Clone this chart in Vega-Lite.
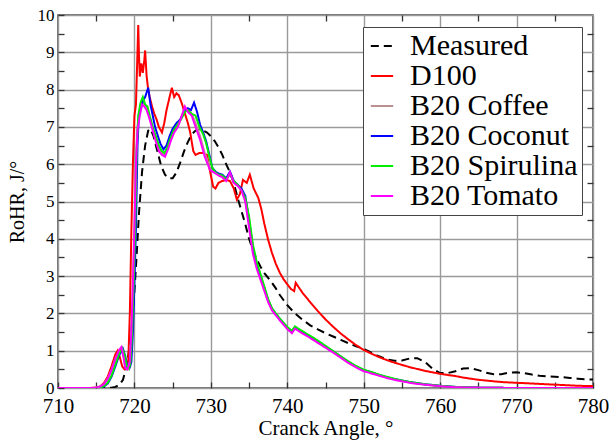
{
"$schema": "https://vega.github.io/schema/vega-lite/v6.json",
"width": 535, "height": 373,
"autosize": {"type": "none"},
"padding": {"left": 58, "top": 15, "right": 16, "bottom": 53},
"background": "white",
"config": {
  "view": {"stroke": "#444444", "strokeWidth": 1.5},
  "font": "Liberation Serif",
  "axis": {"labelFont": "Liberation Serif", "titleFont": "Liberation Serif", "labelColor": "black", "titleColor": "black", "titleFontWeight": "normal", "domain": false, "gridColor": "#9a9a9a", "gridWidth": 1.4, "tickColor": "#333333", "tickWidth": 1.3, "labelOverlap": false, "labelFlush": false},
  "legend": {"labelFont": "Liberation Serif", "labelFontSize": 30, "labelColor": "black", "symbolType": "stroke", "symbolSize": 500, "symbolStrokeWidth": 2, "fillColor": "white", "strokeColor": "#444444", "padding": 4, "rowPadding": -8, "labelOffset": 13, "labelLimit": 400}
},
"data": {"values": [
{"Series":"Measured","Angle":710,"RoHR":0},{"Series":"Measured","Angle":714,"RoHR":0},{"Series":"Measured","Angle":716,"RoHR":0},{"Series":"Measured","Angle":717,"RoHR":0.01},{"Series":"Measured","Angle":717.5,"RoHR":0.03},{"Series":"Measured","Angle":718,"RoHR":0.08},{"Series":"Measured","Angle":718.5,"RoHR":0.22},{"Series":"Measured","Angle":719,"RoHR":0.6},{"Series":"Measured","Angle":719.5,"RoHR":1.3},{"Series":"Measured","Angle":720,"RoHR":2.6},{"Series":"Measured","Angle":720.3,"RoHR":3.6},{"Series":"Measured","Angle":720.6,"RoHR":4.7},{"Series":"Measured","Angle":721,"RoHR":5.8},{"Series":"Measured","Angle":721.4,"RoHR":6.5},{"Series":"Measured","Angle":721.8,"RoHR":6.9},{"Series":"Measured","Angle":722.1,"RoHR":6.95},{"Series":"Measured","Angle":722.5,"RoHR":6.75},{"Series":"Measured","Angle":723,"RoHR":6.35},{"Series":"Measured","Angle":723.5,"RoHR":5.95},{"Series":"Measured","Angle":724,"RoHR":5.72},{"Series":"Measured","Angle":724.5,"RoHR":5.62},{"Series":"Measured","Angle":725,"RoHR":5.62},{"Series":"Measured","Angle":725.5,"RoHR":5.78},{"Series":"Measured","Angle":726,"RoHR":6.05},{"Series":"Measured","Angle":726.5,"RoHR":6.35},{"Series":"Measured","Angle":727,"RoHR":6.6},{"Series":"Measured","Angle":727.5,"RoHR":6.8},{"Series":"Measured","Angle":728,"RoHR":6.9},{"Series":"Measured","Angle":728.5,"RoHR":6.93},{"Series":"Measured","Angle":729,"RoHR":6.9},{"Series":"Measured","Angle":729.5,"RoHR":6.85},{"Series":"Measured","Angle":730,"RoHR":6.75},{"Series":"Measured","Angle":730.5,"RoHR":6.62},{"Series":"Measured","Angle":731,"RoHR":6.45},{"Series":"Measured","Angle":731.5,"RoHR":6.25},{"Series":"Measured","Angle":732,"RoHR":6.0},{"Series":"Measured","Angle":732.5,"RoHR":5.78},{"Series":"Measured","Angle":733,"RoHR":5.5},{"Series":"Measured","Angle":733.5,"RoHR":5.1},{"Series":"Measured","Angle":734,"RoHR":4.75},{"Series":"Measured","Angle":734.5,"RoHR":4.4},{"Series":"Measured","Angle":735,"RoHR":4.0},{"Series":"Measured","Angle":735.5,"RoHR":3.7},{"Series":"Measured","Angle":736,"RoHR":3.45},{"Series":"Measured","Angle":736.5,"RoHR":3.25},{"Series":"Measured","Angle":737,"RoHR":3.08},{"Series":"Measured","Angle":737.5,"RoHR":2.95},{"Series":"Measured","Angle":738,"RoHR":2.82},{"Series":"Measured","Angle":738.5,"RoHR":2.67},{"Series":"Measured","Angle":739,"RoHR":2.5},{"Series":"Measured","Angle":739.5,"RoHR":2.36},{"Series":"Measured","Angle":740,"RoHR":2.22},{"Series":"Measured","Angle":741,"RoHR":2.0},{"Series":"Measured","Angle":742,"RoHR":1.83},{"Series":"Measured","Angle":743,"RoHR":1.68},{"Series":"Measured","Angle":744,"RoHR":1.57},{"Series":"Measured","Angle":745,"RoHR":1.47},{"Series":"Measured","Angle":746,"RoHR":1.38},{"Series":"Measured","Angle":747,"RoHR":1.29},{"Series":"Measured","Angle":748,"RoHR":1.2},{"Series":"Measured","Angle":749,"RoHR":1.12},{"Series":"Measured","Angle":750,"RoHR":1.05},{"Series":"Measured","Angle":751,"RoHR":0.95},{"Series":"Measured","Angle":752,"RoHR":0.85},{"Series":"Measured","Angle":753,"RoHR":0.77},{"Series":"Measured","Angle":754,"RoHR":0.73},{"Series":"Measured","Angle":755,"RoHR":0.74},{"Series":"Measured","Angle":756,"RoHR":0.79},{"Series":"Measured","Angle":757,"RoHR":0.8},{"Series":"Measured","Angle":758,"RoHR":0.7},{"Series":"Measured","Angle":759,"RoHR":0.52},{"Series":"Measured","Angle":760,"RoHR":0.4},{"Series":"Measured","Angle":761,"RoHR":0.4},{"Series":"Measured","Angle":762,"RoHR":0.45},{"Series":"Measured","Angle":763,"RoHR":0.52},{"Series":"Measured","Angle":764,"RoHR":0.53},{"Series":"Measured","Angle":765,"RoHR":0.48},{"Series":"Measured","Angle":766,"RoHR":0.41},{"Series":"Measured","Angle":767,"RoHR":0.37},{"Series":"Measured","Angle":768,"RoHR":0.37},{"Series":"Measured","Angle":769,"RoHR":0.41},{"Series":"Measured","Angle":770,"RoHR":0.42},{"Series":"Measured","Angle":771,"RoHR":0.4},{"Series":"Measured","Angle":772,"RoHR":0.36},{"Series":"Measured","Angle":773,"RoHR":0.33},{"Series":"Measured","Angle":774,"RoHR":0.31},{"Series":"Measured","Angle":775,"RoHR":0.3},{"Series":"Measured","Angle":776,"RoHR":0.29},{"Series":"Measured","Angle":777,"RoHR":0.27},{"Series":"Measured","Angle":778,"RoHR":0.25},{"Series":"Measured","Angle":779,"RoHR":0.23},{"Series":"Measured","Angle":780,"RoHR":0.23},
{"Series":"D100","Angle":710,"RoHR":0},{"Series":"D100","Angle":714,"RoHR":0},{"Series":"D100","Angle":715,"RoHR":0.01},{"Series":"D100","Angle":715.5,"RoHR":0.04},{"Series":"D100","Angle":716,"RoHR":0.13},{"Series":"D100","Angle":716.5,"RoHR":0.3},{"Series":"D100","Angle":717,"RoHR":0.58},{"Series":"D100","Angle":717.5,"RoHR":0.9},{"Series":"D100","Angle":717.8,"RoHR":1.0},{"Series":"D100","Angle":718.1,"RoHR":0.82},{"Series":"D100","Angle":718.4,"RoHR":0.58},{"Series":"D100","Angle":718.7,"RoHR":0.5},{"Series":"D100","Angle":719,"RoHR":0.55},{"Series":"D100","Angle":719.2,"RoHR":0.75},{"Series":"D100","Angle":719.4,"RoHR":2.0},{"Series":"D100","Angle":719.6,"RoHR":4.2},{"Series":"D100","Angle":719.8,"RoHR":6.0},{"Series":"D100","Angle":720,"RoHR":7.3},{"Series":"D100","Angle":720.2,"RoHR":7.6},{"Series":"D100","Angle":720.4,"RoHR":9.0},{"Series":"D100","Angle":720.5,"RoHR":9.73},{"Series":"D100","Angle":720.6,"RoHR":8.9},{"Series":"D100","Angle":720.7,"RoHR":8.35},{"Series":"D100","Angle":720.9,"RoHR":8.7},{"Series":"D100","Angle":721.1,"RoHR":8.45},{"Series":"D100","Angle":721.3,"RoHR":8.8},{"Series":"D100","Angle":721.4,"RoHR":9.05},{"Series":"D100","Angle":721.6,"RoHR":8.35},{"Series":"D100","Angle":721.8,"RoHR":8.0},{"Series":"D100","Angle":722,"RoHR":7.8},{"Series":"D100","Angle":722.3,"RoHR":7.55},{"Series":"D100","Angle":722.6,"RoHR":7.35},{"Series":"D100","Angle":722.9,"RoHR":7.2},{"Series":"D100","Angle":723.2,"RoHR":7.0},{"Series":"D100","Angle":723.6,"RoHR":6.85},{"Series":"D100","Angle":723.9,"RoHR":7.1},{"Series":"D100","Angle":724.2,"RoHR":7.45},{"Series":"D100","Angle":724.6,"RoHR":7.8},{"Series":"D100","Angle":724.9,"RoHR":8.05},{"Series":"D100","Angle":725.2,"RoHR":7.8},{"Series":"D100","Angle":725.5,"RoHR":7.9},{"Series":"D100","Angle":725.8,"RoHR":7.85},{"Series":"D100","Angle":726.2,"RoHR":7.63},{"Series":"D100","Angle":726.6,"RoHR":7.36},{"Series":"D100","Angle":727,"RoHR":7.1},{"Series":"D100","Angle":727.3,"RoHR":6.85},{"Series":"D100","Angle":727.7,"RoHR":6.35},{"Series":"D100","Angle":728,"RoHR":6.25},{"Series":"D100","Angle":728.5,"RoHR":6.3},{"Series":"D100","Angle":729,"RoHR":6.3},{"Series":"D100","Angle":729.5,"RoHR":6.25},{"Series":"D100","Angle":729.9,"RoHR":5.8},{"Series":"D100","Angle":730.3,"RoHR":5.4},{"Series":"D100","Angle":730.6,"RoHR":5.35},{"Series":"D100","Angle":731,"RoHR":5.5},{"Series":"D100","Angle":731.5,"RoHR":5.55},{"Series":"D100","Angle":732,"RoHR":5.58},{"Series":"D100","Angle":732.5,"RoHR":5.55},{"Series":"D100","Angle":733,"RoHR":5.35},{"Series":"D100","Angle":733.4,"RoHR":5.05},{"Series":"D100","Angle":733.8,"RoHR":5.2},{"Series":"D100","Angle":734.2,"RoHR":5.58},{"Series":"D100","Angle":734.7,"RoHR":5.5},{"Series":"D100","Angle":735.1,"RoHR":5.72},{"Series":"D100","Angle":735.6,"RoHR":5.35},{"Series":"D100","Angle":736.2,"RoHR":5.1},{"Series":"D100","Angle":736.6,"RoHR":4.8},{"Series":"D100","Angle":737,"RoHR":4.4},{"Series":"D100","Angle":737.5,"RoHR":3.97},{"Series":"D100","Angle":738,"RoHR":3.62},{"Series":"D100","Angle":738.5,"RoHR":3.33},{"Series":"D100","Angle":739,"RoHR":3.1},{"Series":"D100","Angle":739.5,"RoHR":2.92},{"Series":"D100","Angle":740,"RoHR":2.78},{"Series":"D100","Angle":740.5,"RoHR":2.65},{"Series":"D100","Angle":740.9,"RoHR":2.6},{"Series":"D100","Angle":741.1,"RoHR":2.82},{"Series":"D100","Angle":741.5,"RoHR":2.7},{"Series":"D100","Angle":742,"RoHR":2.55},{"Series":"D100","Angle":743,"RoHR":2.3},{"Series":"D100","Angle":744,"RoHR":2.06},{"Series":"D100","Angle":745,"RoHR":1.84},{"Series":"D100","Angle":746,"RoHR":1.64},{"Series":"D100","Angle":747,"RoHR":1.46},{"Series":"D100","Angle":748,"RoHR":1.3},{"Series":"D100","Angle":749,"RoHR":1.15},{"Series":"D100","Angle":750,"RoHR":1.02},{"Series":"D100","Angle":751,"RoHR":0.92},{"Series":"D100","Angle":752,"RoHR":0.83},{"Series":"D100","Angle":753,"RoHR":0.75},{"Series":"D100","Angle":754,"RoHR":0.68},{"Series":"D100","Angle":755,"RoHR":0.62},{"Series":"D100","Angle":756,"RoHR":0.56},{"Series":"D100","Angle":757,"RoHR":0.51},{"Series":"D100","Angle":758,"RoHR":0.46},{"Series":"D100","Angle":759,"RoHR":0.42},{"Series":"D100","Angle":760,"RoHR":0.38},{"Series":"D100","Angle":761,"RoHR":0.35},{"Series":"D100","Angle":762,"RoHR":0.32},{"Series":"D100","Angle":763,"RoHR":0.28},{"Series":"D100","Angle":764,"RoHR":0.25},{"Series":"D100","Angle":765,"RoHR":0.22},{"Series":"D100","Angle":766,"RoHR":0.2},{"Series":"D100","Angle":767,"RoHR":0.18},{"Series":"D100","Angle":768,"RoHR":0.16},{"Series":"D100","Angle":769,"RoHR":0.15},{"Series":"D100","Angle":770,"RoHR":0.14},{"Series":"D100","Angle":772,"RoHR":0.12},{"Series":"D100","Angle":774,"RoHR":0.1},{"Series":"D100","Angle":776,"RoHR":0.08},{"Series":"D100","Angle":778,"RoHR":0.06},{"Series":"D100","Angle":780,"RoHR":0.05},
{"Series":"B20 Coffee","Angle":710,"RoHR":0},{"Series":"B20 Coffee","Angle":714.5,"RoHR":0},{"Series":"B20 Coffee","Angle":715,"RoHR":0.01},{"Series":"B20 Coffee","Angle":715.5,"RoHR":0.04},{"Series":"B20 Coffee","Angle":716,"RoHR":0.1},{"Series":"B20 Coffee","Angle":716.5,"RoHR":0.25},{"Series":"B20 Coffee","Angle":717,"RoHR":0.48},{"Series":"B20 Coffee","Angle":717.5,"RoHR":0.78},{"Series":"B20 Coffee","Angle":718,"RoHR":1.0},{"Series":"B20 Coffee","Angle":718.3,"RoHR":1.08},{"Series":"B20 Coffee","Angle":718.6,"RoHR":0.82},{"Series":"B20 Coffee","Angle":718.8,"RoHR":0.56},{"Series":"B20 Coffee","Angle":719.1,"RoHR":0.5},{"Series":"B20 Coffee","Angle":719.4,"RoHR":0.68},{"Series":"B20 Coffee","Angle":719.6,"RoHR":1.5},{"Series":"B20 Coffee","Angle":719.8,"RoHR":2.8},{"Series":"B20 Coffee","Angle":720,"RoHR":4.3},{"Series":"B20 Coffee","Angle":720.2,"RoHR":6.1},{"Series":"B20 Coffee","Angle":720.4,"RoHR":7.0},{"Series":"B20 Coffee","Angle":720.7,"RoHR":7.4},{"Series":"B20 Coffee","Angle":721,"RoHR":7.7},{"Series":"B20 Coffee","Angle":721.3,"RoHR":7.6},{"Series":"B20 Coffee","Angle":721.6,"RoHR":7.5},{"Series":"B20 Coffee","Angle":722,"RoHR":7.25},{"Series":"B20 Coffee","Angle":722.4,"RoHR":6.95},{"Series":"B20 Coffee","Angle":722.8,"RoHR":6.65},{"Series":"B20 Coffee","Angle":723.2,"RoHR":6.4},{"Series":"B20 Coffee","Angle":723.6,"RoHR":6.3},{"Series":"B20 Coffee","Angle":724,"RoHR":6.25},{"Series":"B20 Coffee","Angle":724.4,"RoHR":6.45},{"Series":"B20 Coffee","Angle":724.8,"RoHR":6.7},{"Series":"B20 Coffee","Angle":725.2,"RoHR":6.9},{"Series":"B20 Coffee","Angle":725.7,"RoHR":7.05},{"Series":"B20 Coffee","Angle":726.2,"RoHR":7.3},{"Series":"B20 Coffee","Angle":726.6,"RoHR":7.5},{"Series":"B20 Coffee","Angle":727,"RoHR":7.45},{"Series":"B20 Coffee","Angle":727.5,"RoHR":7.35},{"Series":"B20 Coffee","Angle":728,"RoHR":7.1},{"Series":"B20 Coffee","Angle":728.6,"RoHR":6.75},{"Series":"B20 Coffee","Angle":729.2,"RoHR":6.3},{"Series":"B20 Coffee","Angle":729.9,"RoHR":5.88},{"Series":"B20 Coffee","Angle":730.4,"RoHR":5.8},{"Series":"B20 Coffee","Angle":731,"RoHR":5.72},{"Series":"B20 Coffee","Angle":731.5,"RoHR":5.68},{"Series":"B20 Coffee","Angle":732,"RoHR":5.58},{"Series":"B20 Coffee","Angle":732.5,"RoHR":5.78},{"Series":"B20 Coffee","Angle":733,"RoHR":5.52},{"Series":"B20 Coffee","Angle":733.5,"RoHR":5.44},{"Series":"B20 Coffee","Angle":734,"RoHR":5.32},{"Series":"B20 Coffee","Angle":734.5,"RoHR":5.05},{"Series":"B20 Coffee","Angle":735,"RoHR":4.4},{"Series":"B20 Coffee","Angle":735.5,"RoHR":3.68},{"Series":"B20 Coffee","Angle":736,"RoHR":3.26},{"Series":"B20 Coffee","Angle":736.5,"RoHR":2.95},{"Series":"B20 Coffee","Angle":737,"RoHR":2.64},{"Series":"B20 Coffee","Angle":737.5,"RoHR":2.33},{"Series":"B20 Coffee","Angle":738,"RoHR":2.1},{"Series":"B20 Coffee","Angle":738.5,"RoHR":1.97},{"Series":"B20 Coffee","Angle":739,"RoHR":1.84},{"Series":"B20 Coffee","Angle":739.5,"RoHR":1.72},{"Series":"B20 Coffee","Angle":740,"RoHR":1.6},{"Series":"B20 Coffee","Angle":740.6,"RoHR":1.49},{"Series":"B20 Coffee","Angle":741,"RoHR":1.61},{"Series":"B20 Coffee","Angle":742,"RoHR":1.48},{"Series":"B20 Coffee","Angle":743,"RoHR":1.36},{"Series":"B20 Coffee","Angle":744,"RoHR":1.23},{"Series":"B20 Coffee","Angle":745,"RoHR":1.1},{"Series":"B20 Coffee","Angle":746,"RoHR":0.97},{"Series":"B20 Coffee","Angle":747,"RoHR":0.83},{"Series":"B20 Coffee","Angle":748,"RoHR":0.69},{"Series":"B20 Coffee","Angle":749,"RoHR":0.57},{"Series":"B20 Coffee","Angle":750,"RoHR":0.47},{"Series":"B20 Coffee","Angle":751,"RoHR":0.41},{"Series":"B20 Coffee","Angle":752,"RoHR":0.34},{"Series":"B20 Coffee","Angle":753,"RoHR":0.28},{"Series":"B20 Coffee","Angle":754,"RoHR":0.23},{"Series":"B20 Coffee","Angle":755,"RoHR":0.19},{"Series":"B20 Coffee","Angle":756,"RoHR":0.15},{"Series":"B20 Coffee","Angle":757,"RoHR":0.12},{"Series":"B20 Coffee","Angle":758,"RoHR":0.09},{"Series":"B20 Coffee","Angle":759,"RoHR":0.07},{"Series":"B20 Coffee","Angle":760,"RoHR":0.05},{"Series":"B20 Coffee","Angle":762,"RoHR":0.02},{"Series":"B20 Coffee","Angle":765,"RoHR":0.01},{"Series":"B20 Coffee","Angle":770,"RoHR":0},{"Series":"B20 Coffee","Angle":780,"RoHR":0},
{"Series":"B20 Coconut","Angle":710,"RoHR":0},{"Series":"B20 Coconut","Angle":715,"RoHR":0},{"Series":"B20 Coconut","Angle":715.5,"RoHR":0.01},{"Series":"B20 Coconut","Angle":716,"RoHR":0.04},{"Series":"B20 Coconut","Angle":716.5,"RoHR":0.12},{"Series":"B20 Coconut","Angle":717,"RoHR":0.3},{"Series":"B20 Coconut","Angle":717.5,"RoHR":0.58},{"Series":"B20 Coconut","Angle":718,"RoHR":0.88},{"Series":"B20 Coconut","Angle":718.5,"RoHR":1.05},{"Series":"B20 Coconut","Angle":718.8,"RoHR":0.85},{"Series":"B20 Coconut","Angle":719.1,"RoHR":0.55},{"Series":"B20 Coconut","Angle":719.4,"RoHR":0.55},{"Series":"B20 Coconut","Angle":719.6,"RoHR":0.7},{"Series":"B20 Coconut","Angle":719.8,"RoHR":1.5},{"Series":"B20 Coconut","Angle":720,"RoHR":2.8},{"Series":"B20 Coconut","Angle":720.2,"RoHR":4.3},{"Series":"B20 Coconut","Angle":720.4,"RoHR":6.5},{"Series":"B20 Coconut","Angle":720.6,"RoHR":7.4},{"Series":"B20 Coconut","Angle":720.8,"RoHR":7.45},{"Series":"B20 Coconut","Angle":721.1,"RoHR":7.7},{"Series":"B20 Coconut","Angle":721.4,"RoHR":7.8},{"Series":"B20 Coconut","Angle":721.8,"RoHR":8.05},{"Series":"B20 Coconut","Angle":722.1,"RoHR":7.6},{"Series":"B20 Coconut","Angle":722.4,"RoHR":7.3},{"Series":"B20 Coconut","Angle":722.7,"RoHR":7.0},{"Series":"B20 Coconut","Angle":723,"RoHR":6.8},{"Series":"B20 Coconut","Angle":723.4,"RoHR":6.55},{"Series":"B20 Coconut","Angle":723.8,"RoHR":6.4},{"Series":"B20 Coconut","Angle":724.2,"RoHR":6.5},{"Series":"B20 Coconut","Angle":724.6,"RoHR":6.75},{"Series":"B20 Coconut","Angle":725,"RoHR":6.95},{"Series":"B20 Coconut","Angle":725.5,"RoHR":7.1},{"Series":"B20 Coconut","Angle":726,"RoHR":7.2},{"Series":"B20 Coconut","Angle":726.5,"RoHR":7.4},{"Series":"B20 Coconut","Angle":727,"RoHR":7.5},{"Series":"B20 Coconut","Angle":727.4,"RoHR":7.45},{"Series":"B20 Coconut","Angle":727.8,"RoHR":7.65},{"Series":"B20 Coconut","Angle":728.2,"RoHR":7.4},{"Series":"B20 Coconut","Angle":728.6,"RoHR":7.05},{"Series":"B20 Coconut","Angle":729,"RoHR":6.85},{"Series":"B20 Coconut","Angle":729.4,"RoHR":6.6},{"Series":"B20 Coconut","Angle":729.8,"RoHR":6.25},{"Series":"B20 Coconut","Angle":730.2,"RoHR":5.9},{"Series":"B20 Coconut","Angle":730.6,"RoHR":5.8},{"Series":"B20 Coconut","Angle":731,"RoHR":5.75},{"Series":"B20 Coconut","Angle":731.5,"RoHR":5.72},{"Series":"B20 Coconut","Angle":732,"RoHR":5.62},{"Series":"B20 Coconut","Angle":732.5,"RoHR":5.8},{"Series":"B20 Coconut","Angle":733,"RoHR":5.55},{"Series":"B20 Coconut","Angle":733.5,"RoHR":5.45},{"Series":"B20 Coconut","Angle":734,"RoHR":5.35},{"Series":"B20 Coconut","Angle":734.5,"RoHR":5.15},{"Series":"B20 Coconut","Angle":735,"RoHR":4.5},{"Series":"B20 Coconut","Angle":735.5,"RoHR":3.75},{"Series":"B20 Coconut","Angle":736,"RoHR":3.3},{"Series":"B20 Coconut","Angle":736.5,"RoHR":3.0},{"Series":"B20 Coconut","Angle":737,"RoHR":2.68},{"Series":"B20 Coconut","Angle":737.5,"RoHR":2.35},{"Series":"B20 Coconut","Angle":738,"RoHR":2.12},{"Series":"B20 Coconut","Angle":738.5,"RoHR":1.98},{"Series":"B20 Coconut","Angle":739,"RoHR":1.85},{"Series":"B20 Coconut","Angle":739.5,"RoHR":1.74},{"Series":"B20 Coconut","Angle":740,"RoHR":1.62},{"Series":"B20 Coconut","Angle":740.6,"RoHR":1.52},{"Series":"B20 Coconut","Angle":741,"RoHR":1.63},{"Series":"B20 Coconut","Angle":742,"RoHR":1.5},{"Series":"B20 Coconut","Angle":743,"RoHR":1.38},{"Series":"B20 Coconut","Angle":744,"RoHR":1.25},{"Series":"B20 Coconut","Angle":745,"RoHR":1.12},{"Series":"B20 Coconut","Angle":746,"RoHR":0.98},{"Series":"B20 Coconut","Angle":747,"RoHR":0.84},{"Series":"B20 Coconut","Angle":748,"RoHR":0.7},{"Series":"B20 Coconut","Angle":749,"RoHR":0.58},{"Series":"B20 Coconut","Angle":750,"RoHR":0.48},{"Series":"B20 Coconut","Angle":751,"RoHR":0.42},{"Series":"B20 Coconut","Angle":752,"RoHR":0.35},{"Series":"B20 Coconut","Angle":753,"RoHR":0.29},{"Series":"B20 Coconut","Angle":754,"RoHR":0.24},{"Series":"B20 Coconut","Angle":755,"RoHR":0.2},{"Series":"B20 Coconut","Angle":756,"RoHR":0.16},{"Series":"B20 Coconut","Angle":757,"RoHR":0.13},{"Series":"B20 Coconut","Angle":758,"RoHR":0.1},{"Series":"B20 Coconut","Angle":759,"RoHR":0.08},{"Series":"B20 Coconut","Angle":760,"RoHR":0.06},{"Series":"B20 Coconut","Angle":762,"RoHR":0.03},{"Series":"B20 Coconut","Angle":765,"RoHR":0.01},{"Series":"B20 Coconut","Angle":770,"RoHR":0},{"Series":"B20 Coconut","Angle":780,"RoHR":0},
{"Series":"B20 Spirulina","Angle":710,"RoHR":0},{"Series":"B20 Spirulina","Angle":715,"RoHR":0},{"Series":"B20 Spirulina","Angle":715.5,"RoHR":0.01},{"Series":"B20 Spirulina","Angle":716,"RoHR":0.05},{"Series":"B20 Spirulina","Angle":716.5,"RoHR":0.14},{"Series":"B20 Spirulina","Angle":717,"RoHR":0.33},{"Series":"B20 Spirulina","Angle":717.5,"RoHR":0.62},{"Series":"B20 Spirulina","Angle":718,"RoHR":0.92},{"Series":"B20 Spirulina","Angle":718.4,"RoHR":1.07},{"Series":"B20 Spirulina","Angle":718.7,"RoHR":0.9},{"Series":"B20 Spirulina","Angle":719,"RoHR":0.6},{"Series":"B20 Spirulina","Angle":719.3,"RoHR":0.52},{"Series":"B20 Spirulina","Angle":719.5,"RoHR":0.7},{"Series":"B20 Spirulina","Angle":719.7,"RoHR":1.5},{"Series":"B20 Spirulina","Angle":719.9,"RoHR":2.8},{"Series":"B20 Spirulina","Angle":720.1,"RoHR":4.3},{"Series":"B20 Spirulina","Angle":720.3,"RoHR":6.4},{"Series":"B20 Spirulina","Angle":720.5,"RoHR":7.3},{"Series":"B20 Spirulina","Angle":720.8,"RoHR":7.65},{"Series":"B20 Spirulina","Angle":721.1,"RoHR":7.8},{"Series":"B20 Spirulina","Angle":721.4,"RoHR":7.6},{"Series":"B20 Spirulina","Angle":721.7,"RoHR":7.55},{"Series":"B20 Spirulina","Angle":722,"RoHR":7.3},{"Series":"B20 Spirulina","Angle":722.4,"RoHR":7.0},{"Series":"B20 Spirulina","Angle":722.8,"RoHR":6.75},{"Series":"B20 Spirulina","Angle":723.2,"RoHR":6.5},{"Series":"B20 Spirulina","Angle":723.6,"RoHR":6.35},{"Series":"B20 Spirulina","Angle":723.9,"RoHR":6.3},{"Series":"B20 Spirulina","Angle":724.3,"RoHR":6.45},{"Series":"B20 Spirulina","Angle":724.7,"RoHR":6.7},{"Series":"B20 Spirulina","Angle":725.1,"RoHR":6.9},{"Series":"B20 Spirulina","Angle":725.6,"RoHR":7.05},{"Series":"B20 Spirulina","Angle":726.1,"RoHR":7.2},{"Series":"B20 Spirulina","Angle":726.6,"RoHR":7.4},{"Series":"B20 Spirulina","Angle":727,"RoHR":7.45},{"Series":"B20 Spirulina","Angle":727.5,"RoHR":7.35},{"Series":"B20 Spirulina","Angle":728,"RoHR":7.3},{"Series":"B20 Spirulina","Angle":728.5,"RoHR":7.0},{"Series":"B20 Spirulina","Angle":729,"RoHR":6.8},{"Series":"B20 Spirulina","Angle":729.4,"RoHR":6.55},{"Series":"B20 Spirulina","Angle":729.8,"RoHR":6.2},{"Series":"B20 Spirulina","Angle":730.2,"RoHR":5.9},{"Series":"B20 Spirulina","Angle":730.6,"RoHR":5.78},{"Series":"B20 Spirulina","Angle":731,"RoHR":5.72},{"Series":"B20 Spirulina","Angle":731.5,"RoHR":5.7},{"Series":"B20 Spirulina","Angle":732,"RoHR":5.6},{"Series":"B20 Spirulina","Angle":732.5,"RoHR":5.72},{"Series":"B20 Spirulina","Angle":733,"RoHR":5.55},{"Series":"B20 Spirulina","Angle":733.5,"RoHR":5.45},{"Series":"B20 Spirulina","Angle":734,"RoHR":5.3},{"Series":"B20 Spirulina","Angle":734.5,"RoHR":5.1},{"Series":"B20 Spirulina","Angle":735,"RoHR":4.6},{"Series":"B20 Spirulina","Angle":735.5,"RoHR":3.85},{"Series":"B20 Spirulina","Angle":736,"RoHR":3.38},{"Series":"B20 Spirulina","Angle":736.5,"RoHR":3.05},{"Series":"B20 Spirulina","Angle":737,"RoHR":2.72},{"Series":"B20 Spirulina","Angle":737.5,"RoHR":2.38},{"Series":"B20 Spirulina","Angle":738,"RoHR":2.14},{"Series":"B20 Spirulina","Angle":738.5,"RoHR":2.0},{"Series":"B20 Spirulina","Angle":739,"RoHR":1.87},{"Series":"B20 Spirulina","Angle":739.5,"RoHR":1.75},{"Series":"B20 Spirulina","Angle":740,"RoHR":1.64},{"Series":"B20 Spirulina","Angle":740.6,"RoHR":1.53},{"Series":"B20 Spirulina","Angle":741,"RoHR":1.65},{"Series":"B20 Spirulina","Angle":742,"RoHR":1.52},{"Series":"B20 Spirulina","Angle":743,"RoHR":1.4},{"Series":"B20 Spirulina","Angle":744,"RoHR":1.27},{"Series":"B20 Spirulina","Angle":745,"RoHR":1.13},{"Series":"B20 Spirulina","Angle":746,"RoHR":0.99},{"Series":"B20 Spirulina","Angle":747,"RoHR":0.85},{"Series":"B20 Spirulina","Angle":748,"RoHR":0.71},{"Series":"B20 Spirulina","Angle":749,"RoHR":0.59},{"Series":"B20 Spirulina","Angle":750,"RoHR":0.49},{"Series":"B20 Spirulina","Angle":751,"RoHR":0.43},{"Series":"B20 Spirulina","Angle":752,"RoHR":0.36},{"Series":"B20 Spirulina","Angle":753,"RoHR":0.3},{"Series":"B20 Spirulina","Angle":754,"RoHR":0.25},{"Series":"B20 Spirulina","Angle":755,"RoHR":0.2},{"Series":"B20 Spirulina","Angle":756,"RoHR":0.16},{"Series":"B20 Spirulina","Angle":757,"RoHR":0.13},{"Series":"B20 Spirulina","Angle":758,"RoHR":0.1},{"Series":"B20 Spirulina","Angle":759,"RoHR":0.08},{"Series":"B20 Spirulina","Angle":760,"RoHR":0.06},{"Series":"B20 Spirulina","Angle":762,"RoHR":0.03},{"Series":"B20 Spirulina","Angle":765,"RoHR":0.01},{"Series":"B20 Spirulina","Angle":770,"RoHR":0},{"Series":"B20 Spirulina","Angle":780,"RoHR":0},
{"Series":"B20 Tomato","Angle":710,"RoHR":0},{"Series":"B20 Tomato","Angle":714.5,"RoHR":0},{"Series":"B20 Tomato","Angle":715,"RoHR":0.01},{"Series":"B20 Tomato","Angle":715.5,"RoHR":0.04},{"Series":"B20 Tomato","Angle":716,"RoHR":0.1},{"Series":"B20 Tomato","Angle":716.5,"RoHR":0.25},{"Series":"B20 Tomato","Angle":717,"RoHR":0.48},{"Series":"B20 Tomato","Angle":717.5,"RoHR":0.78},{"Series":"B20 Tomato","Angle":718,"RoHR":1.02},{"Series":"B20 Tomato","Angle":718.3,"RoHR":1.1},{"Series":"B20 Tomato","Angle":718.6,"RoHR":0.8},{"Series":"B20 Tomato","Angle":718.8,"RoHR":0.53},{"Series":"B20 Tomato","Angle":719.1,"RoHR":0.5},{"Series":"B20 Tomato","Angle":719.4,"RoHR":0.7},{"Series":"B20 Tomato","Angle":719.6,"RoHR":1.5},{"Series":"B20 Tomato","Angle":719.8,"RoHR":2.8},{"Series":"B20 Tomato","Angle":720,"RoHR":4.3},{"Series":"B20 Tomato","Angle":720.2,"RoHR":6.0},{"Series":"B20 Tomato","Angle":720.4,"RoHR":6.9},{"Series":"B20 Tomato","Angle":720.7,"RoHR":7.3},{"Series":"B20 Tomato","Angle":721,"RoHR":7.6},{"Series":"B20 Tomato","Angle":721.3,"RoHR":7.55},{"Series":"B20 Tomato","Angle":721.6,"RoHR":7.45},{"Series":"B20 Tomato","Angle":722,"RoHR":7.2},{"Series":"B20 Tomato","Angle":722.4,"RoHR":6.9},{"Series":"B20 Tomato","Angle":722.8,"RoHR":6.6},{"Series":"B20 Tomato","Angle":723.2,"RoHR":6.35},{"Series":"B20 Tomato","Angle":723.6,"RoHR":6.25},{"Series":"B20 Tomato","Angle":724,"RoHR":6.2},{"Series":"B20 Tomato","Angle":724.4,"RoHR":6.4},{"Series":"B20 Tomato","Angle":724.8,"RoHR":6.65},{"Series":"B20 Tomato","Angle":725.2,"RoHR":6.85},{"Series":"B20 Tomato","Angle":725.7,"RoHR":7.0},{"Series":"B20 Tomato","Angle":726.2,"RoHR":7.3},{"Series":"B20 Tomato","Angle":726.6,"RoHR":7.55},{"Series":"B20 Tomato","Angle":727,"RoHR":7.4},{"Series":"B20 Tomato","Angle":727.5,"RoHR":7.3},{"Series":"B20 Tomato","Angle":728,"RoHR":7.0},{"Series":"B20 Tomato","Angle":728.6,"RoHR":6.65},{"Series":"B20 Tomato","Angle":729.2,"RoHR":6.2},{"Series":"B20 Tomato","Angle":729.9,"RoHR":5.84},{"Series":"B20 Tomato","Angle":730.4,"RoHR":5.78},{"Series":"B20 Tomato","Angle":731,"RoHR":5.7},{"Series":"B20 Tomato","Angle":731.5,"RoHR":5.65},{"Series":"B20 Tomato","Angle":732,"RoHR":5.55},{"Series":"B20 Tomato","Angle":732.5,"RoHR":5.78},{"Series":"B20 Tomato","Angle":733,"RoHR":5.5},{"Series":"B20 Tomato","Angle":733.5,"RoHR":5.42},{"Series":"B20 Tomato","Angle":734,"RoHR":5.3},{"Series":"B20 Tomato","Angle":734.5,"RoHR":5.0},{"Series":"B20 Tomato","Angle":735,"RoHR":4.3},{"Series":"B20 Tomato","Angle":735.5,"RoHR":3.6},{"Series":"B20 Tomato","Angle":736,"RoHR":3.2},{"Series":"B20 Tomato","Angle":736.5,"RoHR":2.9},{"Series":"B20 Tomato","Angle":737,"RoHR":2.6},{"Series":"B20 Tomato","Angle":737.5,"RoHR":2.3},{"Series":"B20 Tomato","Angle":738,"RoHR":2.08},{"Series":"B20 Tomato","Angle":738.5,"RoHR":1.95},{"Series":"B20 Tomato","Angle":739,"RoHR":1.82},{"Series":"B20 Tomato","Angle":739.5,"RoHR":1.7},{"Series":"B20 Tomato","Angle":740,"RoHR":1.58},{"Series":"B20 Tomato","Angle":740.6,"RoHR":1.47},{"Series":"B20 Tomato","Angle":741,"RoHR":1.59},{"Series":"B20 Tomato","Angle":742,"RoHR":1.46},{"Series":"B20 Tomato","Angle":743,"RoHR":1.34},{"Series":"B20 Tomato","Angle":744,"RoHR":1.21},{"Series":"B20 Tomato","Angle":745,"RoHR":1.08},{"Series":"B20 Tomato","Angle":746,"RoHR":0.95},{"Series":"B20 Tomato","Angle":747,"RoHR":0.81},{"Series":"B20 Tomato","Angle":748,"RoHR":0.67},{"Series":"B20 Tomato","Angle":749,"RoHR":0.55},{"Series":"B20 Tomato","Angle":750,"RoHR":0.45},{"Series":"B20 Tomato","Angle":751,"RoHR":0.39},{"Series":"B20 Tomato","Angle":752,"RoHR":0.33},{"Series":"B20 Tomato","Angle":753,"RoHR":0.27},{"Series":"B20 Tomato","Angle":754,"RoHR":0.22},{"Series":"B20 Tomato","Angle":755,"RoHR":0.18},{"Series":"B20 Tomato","Angle":756,"RoHR":0.14},{"Series":"B20 Tomato","Angle":757,"RoHR":0.11},{"Series":"B20 Tomato","Angle":758,"RoHR":0.09},{"Series":"B20 Tomato","Angle":759,"RoHR":0.07},{"Series":"B20 Tomato","Angle":760,"RoHR":0.05},{"Series":"B20 Tomato","Angle":762,"RoHR":0.02},{"Series":"B20 Tomato","Angle":765,"RoHR":0.01},{"Series":"B20 Tomato","Angle":770,"RoHR":0},{"Series":"B20 Tomato","Angle":780,"RoHR":0}
]},
"layer": [
  {
    "mark": {"type": "line", "strokeWidth": 2, "clip": true},
    "encoding": {
      "x": {"field": "Angle", "type": "quantitative", "scale": {"domain": [710, 780], "nice": false, "zero": false},
        "axis": {"values": [710,715,720,725,730,735,740,745,750,755,760,765,770,775,780], "labelExpr": "datum.value % 10 === 0 ? format(datum.value, 'd') : ''", "labelFontSize": 21, "labelPadding": 13, "tickSize": -6, "grid": true, "gridOpacity": {"condition": {"test": "datum.value % 10 !== 0", "value": 0}, "value": 1}, "title": "Cranck Angle, °", "titleFontSize": 21, "titlePadding": 1}},
      "y": {"field": "RoHR", "type": "quantitative", "scale": {"domain": [0, 10], "nice": false},
        "axis": {"values": [0,0.5,1,1.5,2,2.5,3,3.5,4,4.5,5,5.5,6,6.5,7,7.5,8,8.5,9,9.5,10], "labelExpr": "datum.value % 1 === 0 ? format(datum.value, 'd') : ''", "labelFontSize": 17, "labelPadding": 10, "tickSize": -6, "grid": true, "gridOpacity": {"condition": {"test": "datum.value % 1 !== 0", "value": 0}, "value": 1}, "title": "RoHR, J/°", "titleFontSize": 20, "titlePadding": 10}},
      "color": {"field": "Series", "type": "nominal",
        "scale": {"domain": ["Measured","D100","B20 Coffee","B20 Coconut","B20 Spirulina","B20 Tomato"], "range": ["#000000","#ff0000","#bc9090","#0000ff","#00ee00","#ff00ff"]},
        "legend": {"orient": "none", "legendX": 305, "legendY": 12, "title": null, "rowPadding": -8, "labelFontSize": 30, "padding": 4}},
      "strokeDash": {"field": "Series", "type": "nominal",
        "scale": {"domain": ["Measured","D100","B20 Coffee","B20 Coconut","B20 Spirulina","B20 Tomato"], "range": [[8,5],[1,0],[1,0],[1,0],[1,0],[1,0]]},
        "legend": {"orient": "none", "legendX": 305, "legendY": 12, "title": null, "rowPadding": -8, "labelFontSize": 30, "padding": 4}}
    }
  },
  {
    "mark": {"type": "point", "opacity": 0},
    "encoding": {
      "x": {"field": "Angle", "type": "quantitative", "scale": {"domain": [710, 780], "nice": false, "zero": false},
        "axis": {"orient": "top", "values": [715,725,735,745,755,765,775], "labels": false, "tickSize": -6, "grid": false, "title": null}},
      "y": {"field": "RoHR", "type": "quantitative", "scale": {"domain": [0, 10], "nice": false},
        "axis": {"orient": "right", "values": [0.5,1.5,2.5,3.5,4.5,5.5,6.5,7.5,8.5,9.5], "labels": false, "tickSize": -6, "grid": false, "title": null}}
    }
  }
],
"resolve": {"axis": {"x": "independent", "y": "independent"}}
}
